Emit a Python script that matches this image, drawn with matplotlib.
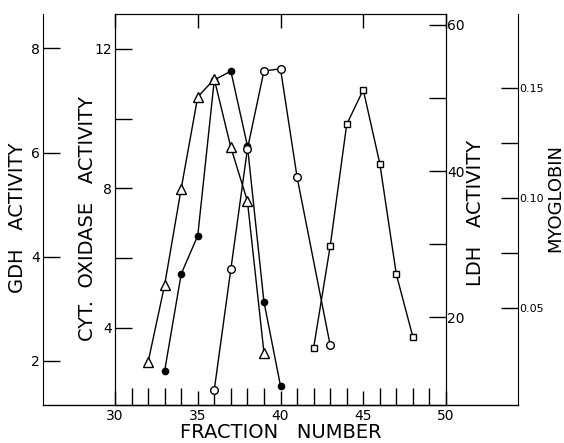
import numpy as np
import matplotlib.pyplot as plt
from matplotlib.ticker import MultipleLocator, FixedLocator
from matplotlib.lines import Line2D

# fraction numbers and activities
frac_gdh = [32, 33, 34, 35, 36, 37, 38, 39]
gdh = [1.98, 3.46, 5.31, 7.07, 7.41, 6.10, 5.07, 2.16]

frac_cyt = [33, 34, 35, 36, 37, 38, 39, 40]
cyt = [2.76, 5.54, 6.64, 11.11, 11.36, 9.22, 4.74, 2.33]

frac_ldh = [36, 37, 38, 39, 40, 41, 43]
ldh = [10.1, 26.6, 43.0, 53.7, 54.0, 39.2, 16.2]

frac_myo = [42, 43, 44, 45, 46, 47, 48]
myo = [0.0321, 0.0781, 0.1333, 0.149, 0.1156, 0.0654, 0.0371]

plt.rcParams['font.family'] = 'DejaVu Sans'
fig = plt.figure(figsize=(5.64, 4.43), dpi=100)
ax = fig.add_axes([115/564, 1-405/443, 331/564, 391/443])
lab_fs = 14

# cyt oxidase on main left spine
ax.plot(frac_cyt, cyt, '-', color='k', lw=1.0, marker='o', ms=4.5,
        mfc='k', mec='k', zorder=3)
ax.set_xlim(30, 50)
ax.set_ylim(1.78, 13.0)
ax.yaxis.set_major_locator(FixedLocator([4, 8, 12]))
ax.yaxis.set_minor_locator(FixedLocator([6, 10]))
ax.xaxis.set_major_locator(MultipleLocator(5))
ax.xaxis.set_minor_locator(MultipleLocator(1))
ax.tick_params(axis='x', which='both', direction='in', length=12, width=1,
               labelsize=10, pad=3)
ax.tick_params(axis='x', which='major', top=True, length=10)
ax.tick_params(axis='y', which='both', direction='in', length=12, width=1,
               labelsize=10, pad=2)
ax.set_xlabel('FRACTION   NUMBER', fontsize=lab_fs, labelpad=0)
ax.set_ylabel('CYT.  OXIDASE   ACTIVITY', fontsize=lab_fs)
ax.yaxis.set_label_coords((97-115)/331, 0.478)

# GDH far left
ax_g = ax.twinx()
ax_g.yaxis.set_label_position('left')
ax_g.yaxis.tick_left()
ax_g.spines['left'].set_position(('axes', -0.2175))
ax_g.spines['right'].set_visible(False)
ax_g.spines['top'].set_visible(False)
ax_g.spines['bottom'].set_visible(False)
ax_g.plot(frac_gdh, gdh, '-', color='k', lw=1.0, marker='^', ms=7,
          mfc='white', mec='k', zorder=3)
ax_g.set_ylim(1.155, 8.66)
ax_g.yaxis.set_major_locator(FixedLocator([2, 4, 6, 8]))
ax_g.tick_params(axis='y', direction='in', length=12, width=1,
                 labelsize=10, pad=2)
ax_g.set_ylabel('GDH   ACTIVITY', fontsize=lab_fs)
ax_g.yaxis.set_label_coords((27-115)/331, 0.48)

# LDH on main right spine
ax_l = ax.twinx()
ax_l.plot(frac_ldh, ldh, '-', color='k', lw=1.0, marker='o', ms=5.5,
          mfc='white', mec='k', zorder=3)
ax_l.set_ylim(8.0, 61.5)
ax_l.yaxis.set_major_locator(FixedLocator([20, 40, 60]))
ax_l.yaxis.set_minor_locator(FixedLocator([30, 50]))
ax_l.tick_params(axis='y', which='both', direction='in', length=12, width=1,
                 labelsize=10, pad=1)
ax_l.set_ylabel('LDH   ACTIVITY', fontsize=lab_fs)
ax_l.yaxis.set_label_coords((466-115)/331, 0.49)

# myoglobin far right
ax_m = ax.twinx()
ax_m.spines['right'].set_position(('axes', 1.2175))
ax_m.spines['left'].set_visible(False)
ax_m.spines['top'].set_visible(False)
ax_m.spines['bottom'].set_visible(False)
ax_m.plot(frac_myo, myo, '-', color='k', lw=1.0, marker='s', ms=5,
          mfc='white', mec='k', zorder=3)
ax_m.set_ylim(0.0063, 0.1833)
ax_m.yaxis.set_major_locator(FixedLocator([0.05, 0.10, 0.15]))
ax_m.yaxis.set_minor_locator(FixedLocator([0.075, 0.125]))
ax_m.yaxis.set_major_formatter(plt.FuncFormatter(lambda v, p: '%.2f' % v))
ax_m.tick_params(axis='y', which='both', direction='in', length=12, width=1,
                 labelsize=8, pad=1)
ax_m.set_ylabel('MYOGLOBIN', fontsize=13)
ax_m.yaxis.set_label_coords((546-115)/331, 0.53)

# bottom line runs out to the outer spines
fig.add_artist(Line2D([43/564, 518/564], [1-405/443, 1-405/443],
                      color='k', lw=1.0))

fig.savefig('out.png', dpi=100)
